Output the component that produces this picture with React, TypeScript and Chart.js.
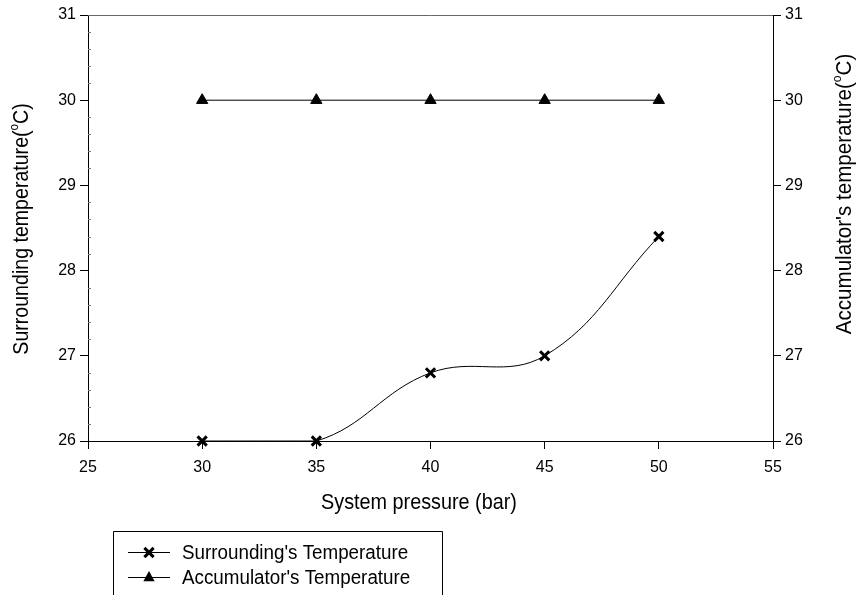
import React, { useEffect, useRef } from 'react';
import { Chart, registerables } from 'chart.js';

Chart.register(...registerables);

const pressure = [30, 35, 40, 45, 50];
const surroundingTemp = [26, 26, 26.8, 27, 28.4];
const accumulatorTemp = [30, 30, 30, 30, 30];
const seriesLabels = ["Surrounding's Temperature", "Accumulator's Temperature"];
const xTitle = 'System pressure (bar)';
const yLeftTitle = ['Surrounding temperature(', 'o', 'C)'];
const yRightTitle = ["Accumulator's temperature(", 'o', 'C)'];
const xMin = 25, xMax = 55, xStep = 5;
const yMin = 26, yMax = 31, yStep = 1, yMinorStep = 0.2;

const FONT = "'Liberation Sans', Arial, sans-serif";
const TICK_SIZE = 16;
const TITLE_SIZE = 22;
const LEGEND_SIZE = 20;
const LEGEND_SX = 0.94;

function drawTitle(ctx: CanvasRenderingContext2D, x: number, cy: number, parts: string[], rot: number, sx: number) {
  ctx.save();
  ctx.translate(x, cy);
  ctx.rotate(rot);
  ctx.scale(sx, 1);
  ctx.fillStyle = '#000';
  ctx.textBaseline = 'middle';
  ctx.textAlign = 'left';
  const main = `${TITLE_SIZE}px ${FONT}`;
  const sup = `${Math.round(TITLE_SIZE * 0.6)}px ${FONT}`;
  ctx.font = main;
  const w0 = ctx.measureText(parts[0]).width;
  const w2 = parts[2] ? ctx.measureText(parts[2]).width : 0;
  ctx.font = sup;
  const w1 = parts[1] ? ctx.measureText(parts[1]).width : 0;
  let px = -(w0 + w1 + w2) / 2;
  ctx.font = main;
  ctx.fillText(parts[0], px, 0);
  px += w0;
  if (parts[1]) {
    ctx.font = sup;
    ctx.fillText(parts[1], px, -TITLE_SIZE * 0.35);
    px += w1;
  }
  if (parts[2]) {
    ctx.font = main;
    ctx.fillText(parts[2], px, 0);
  }
  ctx.restore();
}

function drawMarker(ctx: CanvasRenderingContext2D, style: string, x: number, y: number) {
  ctx.save();
  ctx.strokeStyle = '#000';
  ctx.fillStyle = '#000';
  if (style === 'crossRot') {
    const d = 4.6;
    ctx.lineWidth = 3;
    ctx.beginPath();
    ctx.moveTo(x - d, y - d); ctx.lineTo(x + d, y + d);
    ctx.moveTo(x - d, y + d); ctx.lineTo(x + d, y - d);
    ctx.stroke();
  } else {
    const r = 6.5;
    ctx.beginPath();
    ctx.moveTo(x, y - r);
    ctx.lineTo(x + r * 0.866, y + r * 0.5 + 0.5);
    ctx.lineTo(x - r * 0.866, y + r * 0.5 + 0.5);
    ctx.closePath();
    ctx.fill();
  }
  ctx.restore();
}

const decorPlugin = {
  id: 'decor',
  afterDraw(chart: any) {
    const { ctx, chartArea: ca, scales } = chart;
    ctx.save();
    // top frame line
    ctx.strokeStyle = '#666';
    ctx.lineWidth = 1;
    ctx.beginPath();
    ctx.moveTo(ca.left, Math.round(ca.top) + 0.5);
    ctx.lineTo(ca.right, Math.round(ca.top) + 0.5);
    ctx.stroke();
    // minor ticks on left axis (inside)
    const ys = scales.y;
    ctx.strokeStyle = '#777';
    const n = Math.round((ys.max - ys.min) / yMinorStep);
    for (let i = 1; i < n; i++) {
      if (i % Math.round(yStep / yMinorStep) === 0) continue;
      const v = ys.min + i * yMinorStep;
      const py = Math.round(ys.getPixelForValue(v)) + 0.5;
      ctx.beginPath();
      ctx.moveTo(ca.left, py);
      ctx.lineTo(ca.left + 3, py);
      ctx.stroke();
    }
    // titles
    drawTitle(ctx, 22, 229, yLeftTitle, -Math.PI / 2, 0.89);
    drawTitle(ctx, 845, 194, yRightTitle, -Math.PI / 2, 0.935);
    drawTitle(ctx, 419, 503, [xTitle], 0, 0.9);
    // legend
    const bx = 113.5, by = 531.5, bw = 329;
    ctx.strokeStyle = '#000';
    ctx.lineWidth = 1;
    ctx.beginPath();
    ctx.moveTo(bx, chart.height + 5);
    ctx.lineTo(bx, by);
    ctx.lineTo(bx + bw, by);
    ctx.lineTo(bx + bw, chart.height + 5);
    ctx.stroke();
    const rows = [552, 577];
    chart.data.datasets.forEach((ds: any, i: number) => {
      const ry = rows[i];
      ctx.beginPath();
      ctx.strokeStyle = '#000';
      ctx.lineWidth = 1;
      ctx.moveTo(128, ry + 0.5);
      ctx.lineTo(170, ry + 0.5);
      ctx.stroke();
      drawMarker(ctx, ds.pointStyle, 149, ry + 0.5);
      ctx.save();
      ctx.translate(182, ry + 1);
      ctx.scale(LEGEND_SX, 1);
      ctx.fillStyle = '#000';
      ctx.font = `${LEGEND_SIZE}px ${FONT}`;
      ctx.textBaseline = 'middle';
      ctx.textAlign = 'left';
      ctx.fillText(ds.label, 0, 0);
      ctx.restore();
    });
    ctx.restore();
  },
};

export default function App() {
  const ref = useRef<HTMLCanvasElement | null>(null);
  useEffect(() => {
    if (!ref.current) return;
    const tickFont = { family: FONT, size: TICK_SIZE };
    const axisCommon = {
      grid: { drawOnChartArea: false, drawTicks: true, tickLength: 8, color: '#000' },
      border: { display: true, color: '#000', width: 1 },
    };
    const chart = new Chart(ref.current, {
      type: 'line',
      data: {
        datasets: [
          {
            label: seriesLabels[0],
            data: pressure.map((x, i) => ({ x, y: surroundingTemp[i] })),
            borderColor: '#000',
            backgroundColor: '#000',
            borderWidth: 1,
            pointStyle: 'crossRot',
            pointRadius: 6.5,
            pointBorderWidth: 3,
            pointBorderColor: '#000',
            tension: 0.4,
            clip: false,
            yAxisID: 'y',
          } as any,
          {
            label: seriesLabels[1],
            data: pressure.map((x, i) => ({ x, y: accumulatorTemp[i] })),
            borderColor: '#000',
            backgroundColor: '#000',
            borderWidth: 1,
            pointStyle: 'triangle',
            pointRadius: 6.5,
            pointBorderWidth: 1,
            pointBackgroundColor: '#000',
            pointBorderColor: '#000',
            tension: 0,
            clip: false,
            yAxisID: 'y2',
          } as any,
        ],
      },
      options: {
        responsive: false,
        animation: false,
        devicePixelRatio: 1,
        layout: { padding: { top: 15, bottom: 78, left: 0, right: 0 } },
        plugins: { legend: { display: false }, tooltip: { enabled: false } },
        scales: {
          x: {
            type: 'linear',
            min: xMin,
            max: xMax,
            ticks: { stepSize: xStep, color: '#000', font: tickFont, padding: 9, maxRotation: 0 },
            ...axisCommon,
            afterFit(s: any) { s.height = 76; },
          },
          y: {
            type: 'linear',
            position: 'left',
            min: yMin,
            max: yMax,
            ticks: { stepSize: yStep, color: '#000', font: tickFont, padding: 4 },
            ...axisCommon,
            afterFit(s: any) { s.width = 88; },
          },
          y2: {
            type: 'linear',
            position: 'right',
            min: yMin,
            max: yMax,
            ticks: { stepSize: yStep, color: '#000', font: tickFont, padding: 4 },
            ...axisCommon,
            afterFit(s: any) { s.width = 84; },
          },
        },
      } as any,
      plugins: [decorPlugin],
    });
    return () => chart.destroy();
  }, []);
  return (
    <div style={{ position: 'fixed', left: 0, top: 0, width: 857, height: 595, background: '#fff' }}>
      <canvas ref={ref} width={857} height={595} style={{ display: 'block' }} />
    </div>
  );
}
